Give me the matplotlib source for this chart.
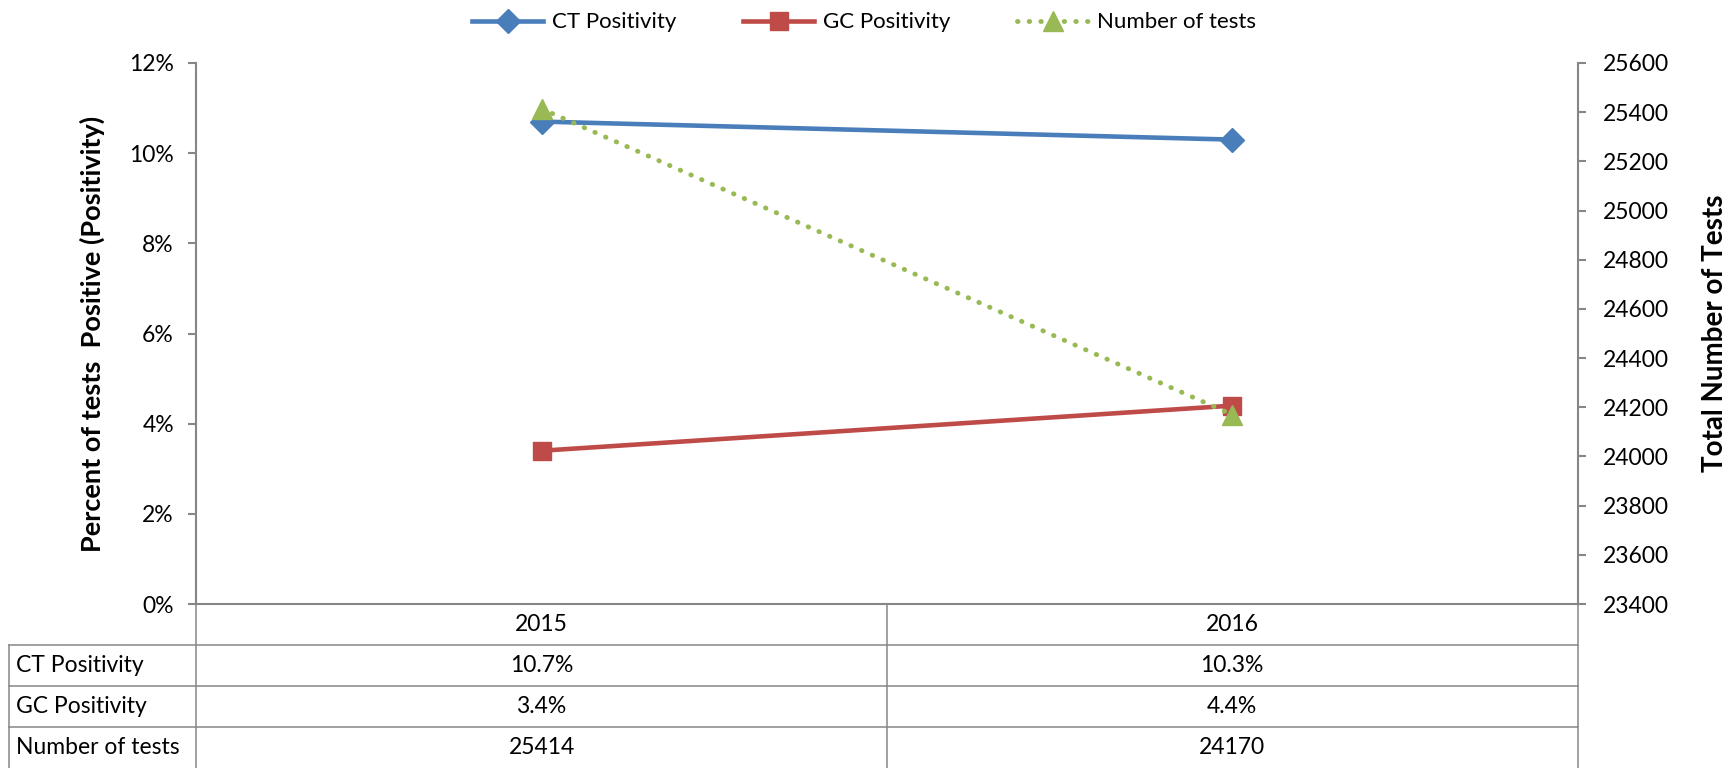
import matplotlib.pyplot as plt
import numpy as np

# data
years = ['2015', '2016']
ct_pos = [10.7, 10.3]
gc_pos = [3.4, 4.4]
n_tests = [25414, 24170]
row_labels = ['CT Positivity', 'GC Positivity', 'Number of tests']
left_ticks = [0, 2, 4, 6, 8, 10, 12]
right_ticks = [23400, 23600, 23800, 24000, 24200, 24400, 24600, 24800, 25000, 25200, 25400, 25600]

plt.rcParams['font.family'] = ['Lato', 'DejaVu Sans']
blue = '#4A7EBB'
red = '#BE4B48'
green = '#98B954'
gray = '#868686'
fs = 16.5

fig = plt.figure(figsize=(17.28, 7.68), dpi=100)
ax_left, ax_bottom, ax_w, ax_h = 0.1135, 0.2135, 0.7995, 0.7045
ax = fig.add_axes([ax_left, ax_bottom, ax_w, ax_h])
ax2 = ax.twinx()

x = np.arange(len(years))
l1, = ax.plot(x, ct_pos, color=blue, lw=3.3, marker='D', ms=12, zorder=3)
l2, = ax.plot(x, gc_pos, color=red, lw=3.3, marker='s', ms=12.5, zorder=3)
l3, = ax2.plot(x, n_tests, color=green, lw=3.5, ls=(0, (0.1, 2.3)),
               dash_capstyle='round', marker='^', ms=14, zorder=4)

ax.set_xlim(-0.5, len(years) - 0.5)
ax.set_ylim(left_ticks[0], left_ticks[-1])
ax.set_yticks(left_ticks)
ax.set_yticklabels([f'{t}%' for t in left_ticks])
ax2.set_ylim(right_ticks[0], right_ticks[-1])
ax2.set_yticks(right_ticks)
ax2.set_yticklabels([str(t) for t in right_ticks])
ax.set_xticks([])

for a in (ax, ax2):
    for s in a.spines.values():
        s.set_visible(False)
    a.patch.set_visible(False)
ax.spines['left'].set_visible(True)
ax.spines['bottom'].set_visible(True)
ax2.spines['right'].set_visible(True)
for s in (ax.spines['left'], ax.spines['bottom'], ax2.spines['right']):
    s.set_color(gray)
    s.set_linewidth(1.5)

ax.tick_params(axis='y', direction='out', length=6, width=1.5, color=gray,
               labelsize=fs, pad=10)
ax2.tick_params(axis='y', direction='out', length=6, width=1.5, color=gray,
                labelsize=fs, pad=12)

ax.set_ylabel('Percent of tests  Positive (Positivity)', fontsize=19.5, fontweight='bold')
ax.yaxis.set_label_coords(-0.066, 0.5)
ax2.set_ylabel('Total Number of Tests', fontsize=20, fontweight='bold', rotation=90)
ax2.yaxis.set_label_coords(1.090, 0.5)

# legend
fig.legend([l1, l2, l3], ['CT Positivity', 'GC Positivity', 'Number of tests'],
           loc='upper center', bbox_to_anchor=(0.5, 1.01), ncol=3, frameon=False,
           fontsize=16, handlelength=3.2, columnspacing=3, handletextpad=0.4)

# data table below the plot
n_rows = len(row_labels) + 1
row_h = ax_bottom / n_rows
col_edges = [ax_left + ax_w * i / len(years) for i in range(len(years) + 1)]
col_mid = [(col_edges[i] + col_edges[i + 1]) / 2 for i in range(len(years))]
tab_left = 0.005
lk = dict(color=gray, lw=1.1, transform=fig.transFigure, clip_on=False)

for k in range(1, n_rows):
    y = ax_bottom - k * row_h
    fig.add_artist(plt.Line2D([tab_left, col_edges[-1]], [y, y], **lk))
fig.add_artist(plt.Line2D([tab_left, tab_left], [ax_bottom - row_h, 0], **lk))
for xe in col_edges:
    fig.add_artist(plt.Line2D([xe, xe], [ax_bottom, 0], **lk))

for i, yr in enumerate(years):
    fig.text(col_mid[i], ax_bottom - 0.5 * row_h, yr, ha='center', va='center', fontsize=fs)

table_vals = [[f'{v:.1f}%' for v in ct_pos],
              [f'{v:.1f}%' for v in gc_pos],
              [str(v) for v in n_tests]]
for r, lab in enumerate(row_labels):
    yc = ax_bottom - (r + 1.5) * row_h
    fig.text(tab_left + 0.004, yc, lab, ha='left', va='center', fontsize=fs)
    for i, val in enumerate(table_vals[r]):
        fig.text(col_mid[i], yc, val, ha='center', va='center', fontsize=fs)

fig.savefig('out.png', dpi=100)
